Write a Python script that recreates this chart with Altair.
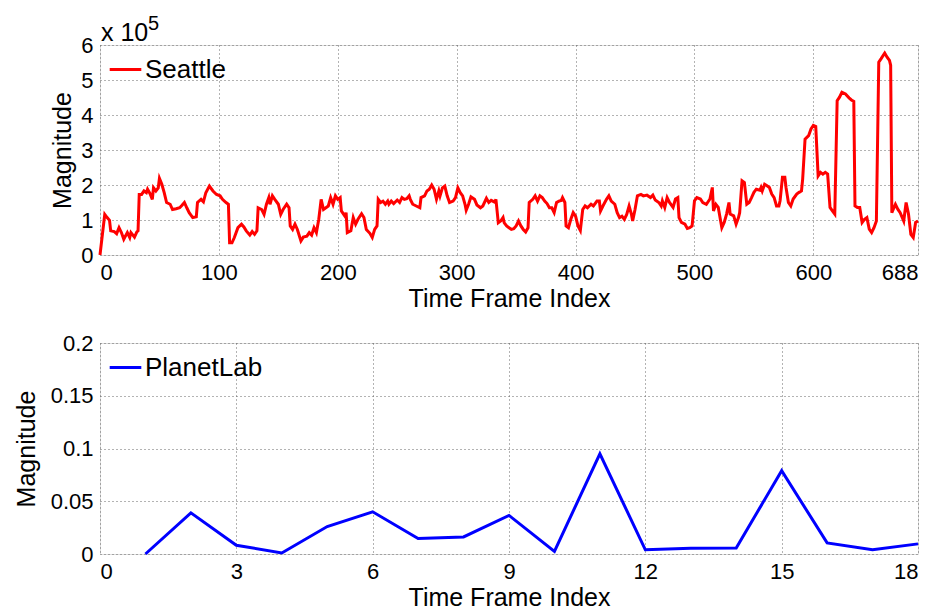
import altair as alt
import pandas as pd

# ---- Data ----
seattle_idx = [0, 4, 6, 8, 9, 12, 14, 16, 18, 20, 23, 25, 26, 29, 31, 32, 33, 35, 37, 39,
               40, 42, 44, 45, 47, 49, 50, 52, 54, 56, 59, 61, 64, 67, 69, 71, 73, 75, 78, 81,
               82, 85, 87, 89, 92, 95, 98, 101, 103, 106, 108, 109, 111, 113, 116, 119, 121, 123, 126, 128,
               130, 132, 133, 136, 138, 140, 142, 143, 145, 147, 150, 152, 154, 157, 159, 160, 162, 164, 166, 169,
               171, 174, 176, 178, 180, 182, 184, 186, 188, 192, 194, 196, 198, 200, 202, 203, 206, 207, 208, 211,
               213, 215, 217, 220, 222, 224, 227, 229, 231, 233, 234, 236, 238, 240, 242, 243, 245, 247, 250, 252,
               254, 256, 258, 260, 261, 263, 266, 269, 270, 273, 275, 277, 279, 281, 283, 285, 286, 288, 290, 292,
               294, 297, 299, 301, 303, 305, 307, 308, 310, 312, 315, 317, 320, 322, 325, 327, 329, 332, 333, 335,
               337, 339, 340, 342, 344, 346, 348, 350, 352, 354, 356, 358, 360, 361, 364, 366, 368, 370, 372, 374,
               376, 378, 380, 382, 384, 386, 388, 389, 391, 392, 394, 396, 398, 400, 402, 404, 406, 408, 410, 413,
               415, 418, 420, 421, 423, 426, 428, 430, 433, 435, 437, 439, 441, 443, 445, 447, 448, 450, 452, 455,
               457, 460, 463, 465, 467, 470, 472, 473, 475, 477, 479, 482, 484, 486, 487, 489, 492, 494, 496, 498,
               500, 502, 505, 507, 510, 513, 515, 516, 518, 520, 523, 525, 527, 529, 530, 533, 535, 537, 538, 540,
               542, 544, 546, 548, 550, 552, 555, 556, 557, 559, 561, 563, 565, 567, 569, 571, 572, 574, 576, 577,
               579, 581, 583, 586, 588, 590, 591, 593, 596, 598, 600, 602, 604, 606, 608, 610, 612, 614, 616, 618,
               620, 622, 624, 627, 630, 632, 634, 635, 637, 639, 641, 643, 645, 647, 649, 651, 653, 655, 657, 660,
               662, 664, 665, 666, 669, 671, 673, 676, 678, 680, 682, 684, 686, 688]
# magnitude in units of 1e5
seattle_val = [0.00, 1.16, 1.07, 0.99, 0.69, 0.67, 0.61, 0.78, 0.64, 0.45, 0.64, 0.50, 0.64, 0.51, 0.66, 0.69, 1.73, 1.73, 1.83, 1.78,
               1.88, 1.76, 1.59, 1.92, 1.83, 1.92, 2.19, 2.02, 1.78, 1.50, 1.45, 1.30, 1.32, 1.35, 1.42, 1.50, 1.35, 1.21, 1.07, 1.09,
               1.50, 1.59, 1.52, 1.78, 1.97, 1.83, 1.73, 1.69, 1.59, 1.50, 1.45, 0.35, 0.35, 0.50, 0.78, 0.88, 0.80, 0.69, 0.57, 0.67,
               0.59, 0.69, 1.35, 1.30, 1.16, 1.45, 1.64, 1.45, 1.69, 1.59, 1.45, 1.16, 1.30, 1.45, 1.35, 0.83, 0.73, 0.88, 0.73, 0.40,
               0.51, 0.54, 0.64, 0.57, 0.78, 0.64, 1.02, 1.59, 1.30, 1.40, 1.64, 1.45, 1.69, 1.59, 1.64, 1.26, 1.11, 1.21, 0.64, 0.69,
               1.07, 0.88, 1.02, 1.18, 1.07, 0.73, 0.62, 0.50, 0.73, 0.83, 1.59, 1.50, 1.54, 1.45, 1.54, 1.45, 1.54, 1.47, 1.57, 1.50,
               1.64, 1.59, 1.61, 1.69, 1.59, 1.45, 1.40, 1.35, 1.64, 1.69, 1.83, 1.88, 2.00, 1.88, 1.59, 1.83, 1.69, 1.92, 1.97, 1.69,
               1.50, 1.54, 1.64, 1.92, 1.78, 1.69, 1.45, 1.28, 1.45, 1.66, 1.59, 1.43, 1.35, 1.40, 1.62, 1.50, 1.56, 1.51, 1.59, 0.92,
               0.97, 1.07, 0.92, 0.83, 0.78, 0.73, 0.75, 0.83, 0.97, 0.83, 0.73, 0.66, 0.78, 1.50, 1.59, 1.69, 1.54, 1.69, 1.64, 1.54,
               1.47, 1.35, 1.35, 1.21, 1.50, 1.54, 1.56, 1.64, 1.50, 0.83, 0.78, 1.02, 1.21, 1.11, 0.83, 0.70, 1.30, 1.40, 1.35, 1.45,
               1.40, 1.54, 1.54, 1.26, 1.40, 1.59, 1.69, 1.54, 1.45, 1.21, 1.07, 1.11, 1.02, 1.16, 1.40, 1.16, 0.97, 1.30, 1.69, 1.73,
               1.69, 1.71, 1.64, 1.71, 1.57, 1.50, 1.40, 1.55, 1.36, 1.64, 1.50, 1.36, 1.60, 1.64, 1.07, 0.93, 0.88, 0.76, 0.78, 0.83,
               1.55, 1.64, 1.60, 1.50, 1.45, 1.60, 1.93, 1.26, 1.45, 1.36, 0.78, 0.93, 1.17, 1.50, 1.17, 1.12, 0.88, 1.07, 1.21, 2.12,
               2.07, 1.45, 1.50, 1.64, 1.79, 1.88, 1.85, 1.93, 1.83, 2.02, 1.98, 1.93, 1.74, 1.64, 1.40, 1.40, 1.55, 2.22, 2.22, 1.93,
               1.50, 1.40, 1.60, 1.74, 1.79, 1.83, 2.17, 3.31, 3.41, 3.60, 3.70, 3.67, 2.26, 2.36, 2.31, 2.36, 2.31, 1.36, 1.26, 1.17,
               4.41, 4.51, 4.65, 4.60, 4.49, 4.43, 4.39, 1.40, 1.36, 1.36, 0.93, 1.02, 1.07, 0.74, 0.64, 0.78, 0.97, 5.51, 5.61, 5.77,
               5.65, 5.56, 5.42, 1.21, 1.45, 1.31, 1.21, 0.97, 1.50, 1.17, 0.59, 0.50, 0.93, 0.97]

planet_idx = [1, 2, 3, 4, 5, 6, 7, 8, 9, 10, 11, 12, 13, 14, 15, 16, 17, 18]
planet_val = [0.0, 0.039, 0.0083, 0.001, 0.026, 0.040, 0.0146, 0.0162, 0.0366, 0.0025,
              0.095, 0.004, 0.0054, 0.0057, 0.079, 0.0105, 0.004, 0.0096]

top_x_ticks = [0, 100, 200, 300, 400, 500, 600, 688]
top_y_ticks = [0, 1, 2, 3, 4, 5, 6]
bot_x_ticks = [0, 3, 6, 9, 12, 15, 18]
bot_y_ticks = [0, 0.05, 0.1, 0.15, 0.2]

FONT = "Liberation Sans"

axis_common = dict(
    grid=True, gridDash=[1, 3], gridColor="#666666", gridWidth=1,
    ticks=False, domain=False,
    labelFont=FONT, labelFontSize=22, labelColor="black", labelPadding=7,
    titleFont=FONT, titleFontSize=25, titleFontWeight="normal", titleColor="black",
)

legend_common = dict(
    title=None, orient="none", legendX=8, legendY=7,
    symbolType="stroke", symbolSize=1000, symbolStrokeWidth=3,
    labelFont=FONT, labelFontSize=26, labelColor="black", labelOffset=2,
)

top_df = pd.DataFrame({"idx": seattle_idx, "mag": seattle_val, "series": "Seattle"})
bot_df = pd.DataFrame({"idx": planet_idx, "mag": planet_val, "series": "PlanetLab"})

top_line = alt.Chart(top_df).mark_line(strokeWidth=3).encode(
    x=alt.X("idx:Q", scale=alt.Scale(domain=[0, 688], nice=False, zero=False),
            axis=alt.Axis(values=top_x_ticks, title="Time Frame Index", titlePadding=3, **axis_common)),
    y=alt.Y("mag:Q", scale=alt.Scale(domain=[0, 6], nice=False),
            axis=alt.Axis(values=top_y_ticks, title="Magnitude", titleX=-25, **axis_common)),
    color=alt.Color("series:N", scale=alt.Scale(domain=["Seattle"], range=["#ff0000"]),
                    legend=alt.Legend(**legend_common)),
)

exp_base = alt.Chart(pd.DataFrame({"t": ["x 10"]})).mark_text(
    align="left", baseline="alphabetic", font=FONT, fontSize=25, color="black"
).encode(text="t:N", x=alt.value(1), y=alt.value(-4))
exp_sup = alt.Chart(pd.DataFrame({"t": ["5"]})).mark_text(
    align="left", baseline="alphabetic", font=FONT, fontSize=20, color="black"
).encode(text="t:N", x=alt.value(48), y=alt.value(-15))

top = alt.layer(top_line, exp_base, exp_sup).properties(width=818, height=210)

bottom = alt.Chart(bot_df).mark_line(strokeWidth=3).encode(
    x=alt.X("idx:Q", scale=alt.Scale(domain=[0, 18], nice=False, zero=False),
            axis=alt.Axis(values=bot_x_ticks, title="Time Frame Index", titlePadding=3, **axis_common)),
    y=alt.Y("mag:Q", scale=alt.Scale(domain=[0, 0.2], nice=False),
            axis=alt.Axis(values=bot_y_ticks, format="~g", title="Magnitude", titleX=-61, **axis_common)),
    color=alt.Color("series:N", scale=alt.Scale(domain=["PlanetLab"], range=["#0000ff"]),
                    legend=alt.Legend(**legend_common)),
).properties(width=818, height=211)

chart = alt.vconcat(top, bottom, spacing=19).resolve_scale(color="independent").resolve_legend(
    color="independent"
).configure_view(stroke="black", strokeWidth=1.5).configure(background="white")

chart.save("out.html", embed_options={"renderer": "svg", "actions": False})
